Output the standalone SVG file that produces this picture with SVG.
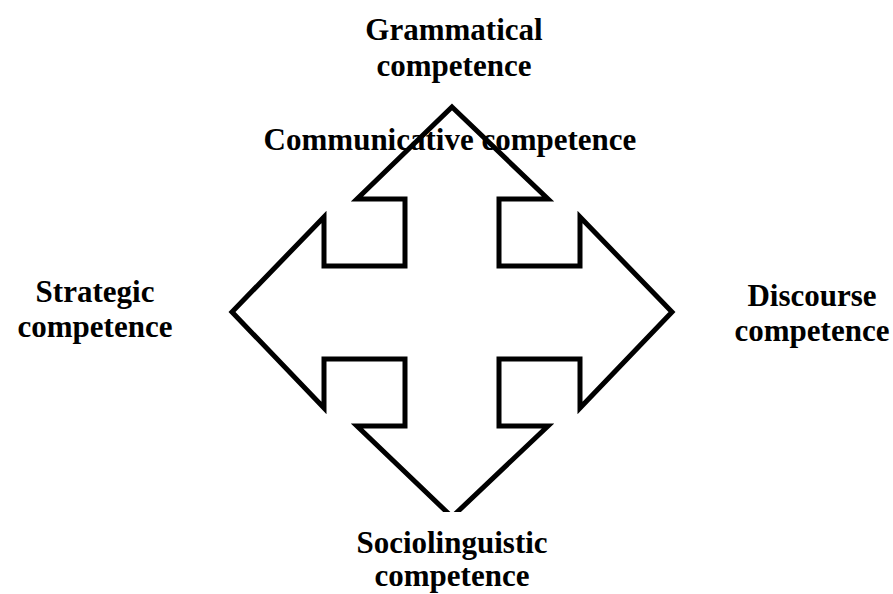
<svg xmlns="http://www.w3.org/2000/svg" width="893" height="594" viewBox="0 0 893 594">
<style>
.lbl{font-family:"Liberation Serif","Times New Roman",serif;font-weight:bold;font-size:31px;fill:#000;text-anchor:middle}
.shape{fill:#fff;stroke:#000;stroke-width:5;stroke-linejoin:miter}
</style>
<defs><clipPath id="cp"><rect x="0" y="0" width="893" height="512"/></clipPath></defs>
<rect width="893" height="594" fill="#fff"/>
<g id="arrow" clip-path="url(#cp)">
<polygon class="shape" points="452,107 548,199 499,199 499,266 580,266 580,217 672,312 580,408 580,359 499,359 499,426 548,426 452,517 357,426 405,426 405,359 324,359 324,408 232,312 324,217 324,266 405,266 405,199 357,199"/>
</g>
<g id="communicative"><text class="lbl" x="450" y="150">Communicative competence</text></g>
<g id="grammatical"><text class="lbl" x="454" y="40">Grammatical</text><text class="lbl" x="454" y="76">competence</text></g>
<g id="strategic"><text class="lbl" x="95" y="302">Strategic</text><text class="lbl" x="95" y="337">competence</text></g>
<g id="discourse"><text class="lbl" x="812" y="306">Discourse</text><text class="lbl" x="812" y="341">competence</text></g>
<g id="sociolinguistic"><text class="lbl" x="452" y="553">Sociolinguistic</text><text class="lbl" x="452" y="586">competence</text></g>
<g id="connectors"/>
</svg>
